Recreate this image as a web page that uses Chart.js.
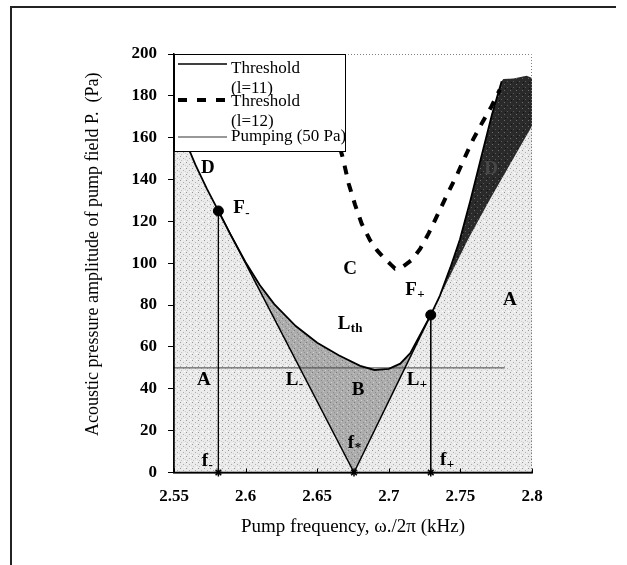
<!DOCTYPE html>
<html><head><meta charset="utf-8">
<script src="https://cdn.jsdelivr.net/npm/chart.js@4.4.1/dist/chart.umd.min.js"></script>
<style>
html,body{margin:0;padding:0;background:#fff;}
#wrap{position:relative;width:627px;height:565px;overflow:hidden;}
canvas{position:absolute;left:0;top:0;}
#frame{position:absolute;left:10px;top:6px;width:604px;height:600px;border-left:2px solid #222;border-top:2px solid #222;pointer-events:none;}
</style></head><body>
<div id="wrap"><canvas id="c" width="627" height="565"></canvas><div id="frame"></div></div>
<script>
// ---------- data ----------
const xTicks = [2.55, 2.6, 2.65, 2.7, 2.75, 2.8];
const xTickLabels = ['2.55', '2.6', '2.65', '2.7', '2.75', '2.8'];
const yTicks = [0, 20, 40, 60, 80, 100, 120, 140, 160, 180, 200];
const yTickLabels = ['0', '20', '40', '60', '80', '100', '120', '140', '160', '180', '200'];

// Threshold (l=11) curve  L_th
const thr11X = [2.557, 2.565, 2.573, 2.581, 2.590, 2.600, 2.610, 2.620, 2.635, 2.650, 2.665, 2.680, 2.690, 2.700, 2.708, 2.715, 2.722, 2.7293, 2.7357, 2.743, 2.7497, 2.7572, 2.765, 2.772, 2.7788];
const thr11Y = [160, 147, 135.5, 125, 113, 100.5, 89.5, 80.5, 70, 62, 56, 51, 49, 49.5, 52, 57, 66, 75.3, 84.5, 98, 111.5, 130.6, 152, 171, 187];

// Threshold (l=12) dashed curve
const thr12X = [2.666, 2.668, 2.672, 2.6764, 2.681, 2.6869, 2.692, 2.6973, 2.702, 2.7043, 2.710, 2.716, 2.722, 2.728, 2.735, 2.7416, 2.7478, 2.7532, 2.759, 2.7653, 2.7719, 2.7775];
const thr12Y = [155, 150, 138, 128, 119, 111, 106, 102, 99, 97.5, 98.5, 101.5, 107, 114.5, 124.5, 134, 142.5, 150.8, 159.3, 167.3, 175.2, 183];

// Pumping level (50 Pa)
const pumpX = [2.55, 2.781];
const pumpY = [50, 50];

// Lines L- and L+ from f*
const lMinusX = [2.581, 2.6757];
const lMinusY = [125, 0];
const lPlusX = [2.6757, 2.7293, 2.7555, 2.7707, 2.8];
const lPlusY = [0, 75.3, 111.6, 130.6, 165.6];

// Upper edge of dark region D (right)
const darkTopX = [2.780, 2.787, 2.7963, 2.8];
const darkTopY = [188, 188.3, 189.6, 188.5];

// Special points
const fMinusX = 2.581, fMinusY = 125;
const fPlusX = 2.7293, fPlusY = 75.3;
const fStarX = 2.6757;

const legendLabels = [['Threshold', '(l=11)'], ['Threshold', '(l=12)'], ['Pumping (50 Pa)']];
const xTitle = 'Pump frequency, \u03C9./2\u03C0 (kHz)';
const yTitle = '    Acoustic pressure amplitude of pump field P.  (Pa)';

// region / point labels (text, subscript, x, y)
const annotations = [
  ['D', '', 2.5737, 145.4, '#000'],
  ['F', '-', 2.5954, 126.2, '#000'],
  ['A', '', 2.5709, 44.3, '#000'],
  ['C', '', 2.6729, 97.0, '#000'],
  ['F', '+', 2.7155, 87.4, '#000'],
  ['A', '', 2.7846, 82.6, '#000'],
  ['L', 'th', 2.6687, 71.1, '#000'],
  ['L', '-', 2.6324, 44.3, '#000'],
  ['B', '', 2.6785, 39.5, '#000'],
  ['L', '+', 2.7169, 44.3, '#000'],
  ['f', '*', 2.6736, 14.1, '#000'],
  ['f', '-', 2.5716, 5.5, '#000'],
  ['f', '+', 2.7379, 6.0, '#000'],
  ['D', '', 2.7714, 144.9, '#474747']
];

// ---------- helpers ----------
const xMin = xTicks[0], xMax = xTicks[xTicks.length - 1];
const P = (xs, ys) => xs.map((v, i) => ({x: v, y: ys[i]}));
const thr11 = P(thr11X, thr11Y);
const lPlus = P(lPlusX, lPlusY);
const darkTop = P(darkTopX, darkTopY);
const fM = {x: fMinusX, y: fMinusY}, fP = {x: fPlusX, y: fPlusY}, fS = {x: fStarX, y: 0};

const thrLeft = thr11.filter(p => p.x < fMinusX);
const thrMid = thr11.filter(p => p.x > fMinusX && p.x < fPlusX);
const thrRight = thr11.filter(p => p.x > fPlusX);
const plusUpper = lPlus.filter(p => p.x > fPlusX);

const polyALeft = [{x: xMin, y: 0}, fS, fM, ...thrLeft.slice().reverse(), {x: xMin, y: thrLeft[0].y}];
const polyARight = [fS, ...lPlus.filter(p => p.x > fStarX), {x: xMax, y: 0}];
const polyB = [fM, ...thrMid, fP, fS];
const polyD = [fP, ...thrRight, ...darkTop, ...plusUpper.slice().reverse()];

function pat(base, dots) {
  const c = document.createElement('canvas'); c.width = 6; c.height = 6;
  const g = c.getContext('2d'); g.fillStyle = base; g.fillRect(0, 0, 6, 6);
  dots.forEach(d => { g.fillStyle = d[2]; g.fillRect(d[0], d[1], 1, 1); });
  return g.createPattern(c, 'repeat');
}
const patA = pat('#ebebeb', [[0,0,'#969696'],[3,2,'#adadad'],[1,4,'#c2c2c2'],[5,3,'#d0d0d0'],[4,5,'#ffffff']]);
const patB = pat('#adadad', [[0,0,'#7a7a7a'],[3,2,'#8a8a8a'],[1,4,'#d0d0d0'],[5,1,'#c8c8c8'],[4,4,'#8e8e8e']]);
const patD = pat('#2a2a2a', [[0,0,'#6a6a6a'],[3,3,'#5a5a5a'],[1,4,'#111111']]);

const serif = '"Liberation Serif", "Times New Roman", serif';

const polyDs = (data, bg) => ({data, showLine: true, fill: 'shape', backgroundColor: bg, borderWidth: 0, pointRadius: 0, order: 20});
const lineDs = (data, color, w, extra) => Object.assign({data, showLine: true, fill: false, borderColor: color, borderWidth: w, pointRadius: 0, tension: 0, order: 5}, extra || {});

const overlay = {
  id: 'overlay',
  afterDatasetsDraw(chart) {
    const {ctx, chartArea: a, scales: {x, y}} = chart;
    ctx.save();
    // plot border (top/right dotted gray)
    ctx.strokeStyle = '#808080'; ctx.lineWidth = 1; ctx.setLineDash([1, 2]);
    ctx.beginPath(); ctx.moveTo(a.left, a.top + 0.5); ctx.lineTo(a.right - 0.5, a.top + 0.5); ctx.lineTo(a.right - 0.5, a.bottom); ctx.stroke();
    ctx.setLineDash([]);
    // axes
    ctx.strokeStyle = '#000'; ctx.lineWidth = 1.5;
    ctx.beginPath(); ctx.moveTo(a.left, a.top); ctx.lineTo(a.left, a.bottom); ctx.lineTo(a.right, a.bottom); ctx.stroke();
    // inner x ticks
    ctx.lineWidth = 1;
    xTicks.forEach(v => { const px = Math.round(x.getPixelForValue(v)) + 0.5; ctx.beginPath(); ctx.moveTo(px, a.bottom); ctx.lineTo(px, a.bottom - 4); ctx.stroke(); });
    // labels
    annotations.forEach(([t, sub, xv, yv, col]) => {
      const px = x.getPixelForValue(xv), py = y.getPixelForValue(yv);
      ctx.fillStyle = col; ctx.textBaseline = 'middle';
      ctx.font = 'bold 19px ' + serif; ctx.textAlign = 'center';
      ctx.fillText(t, px, py);
      if (sub) {
        const w = ctx.measureText(t).width;
        ctx.font = 'bold 13px ' + serif; ctx.textAlign = 'left';
        ctx.fillText(sub, px + w / 2 + 0.5, py + 5);
      }
    });
    // legend box
    const L = a.left, T = a.top, bw = 171, bh = 97;
    ctx.fillStyle = '#fff'; ctx.fillRect(L, T, bw, bh);
    ctx.strokeStyle = '#000'; ctx.lineWidth = 1; ctx.strokeRect(L + 0.5, T + 0.5, bw, bh);
    const sx0 = L + 4, sx1 = L + 53, tx = L + 57;
    ctx.strokeStyle = '#000';
    ctx.lineWidth = 1.5; ctx.beginPath(); ctx.moveTo(sx0, T + 10); ctx.lineTo(sx1, T + 10); ctx.stroke();
    ctx.lineWidth = 4; ctx.setLineDash([9, 10]); ctx.beginPath(); ctx.moveTo(sx0, T + 46); ctx.lineTo(sx1, T + 46); ctx.stroke();
    ctx.setLineDash([]);
    ctx.strokeStyle = '#333'; ctx.lineWidth = 1.2; ctx.beginPath(); ctx.moveTo(sx0, T + 83); ctx.lineTo(sx1, T + 83); ctx.stroke();
    ctx.fillStyle = '#000'; ctx.font = '17px ' + serif; ctx.textAlign = 'left'; ctx.textBaseline = 'middle';
    ctx.fillText(legendLabels[0][0], tx, T + 15);
    ctx.fillText(legendLabels[0][1], tx, T + 35);
    ctx.fillText(legendLabels[1][0], tx, T + 48);
    ctx.fillText(legendLabels[1][1], tx, T + 68);
    ctx.fillText(legendLabels[2][0], tx, T + 83);
    ctx.restore();
  }
};

new Chart(document.getElementById('c'), {
  type: 'scatter',
  data: {
    datasets: [
      polyDs(polyALeft, patA),
      polyDs(polyARight, patA),
      Object.assign(polyDs(polyB, patB), {order: 19}),
      Object.assign(polyDs(polyD, patD), {order: 19}),
      lineDs(P(pumpX, pumpY), '#444', 1, {order: 6}),
      lineDs(P(thr12X, thr12Y), '#000', 4, {borderDash: [9, 9], order: 4}),
      lineDs([fM, {x: fMinusX, y: 0}], '#000', 1, {order: 5}),
      lineDs([fP, {x: fPlusX, y: 0}], '#000', 1, {order: 5}),
      lineDs(P(lMinusX, lMinusY), '#000', 1.5, {order: 3}),
      lineDs([fS, fP], '#000', 1.5, {order: 3}),
      lineDs(thr11, '#000', 1.8, {order: 2}),
      {data: [fM, fP], showLine: false, pointRadius: 5, pointBackgroundColor: '#000', pointBorderColor: '#000', order: 1},
      {data: [{x: fMinusX, y: 0}, fS, {x: fPlusX, y: 0}], showLine: false, pointStyle: 'star', pointRadius: 4, pointBorderColor: '#000', pointBorderWidth: 1.5, clip: false, order: 1}
    ]
  },
  options: {
    responsive: false, animation: false, events: [],
    layout: {padding: {left: 78, right: 95, top: 54, bottom: 24}},
    plugins: {legend: {display: false}, tooltip: {enabled: false}},
    scales: {
      x: {
        type: 'linear', position: 'bottom', min: xMin, max: xMax,
        afterBuildTicks: s => { s.ticks = xTicks.map(v => ({value: v})); },
        afterFit: s => { s.height = 68.5; },
        grid: {display: false},
        border: {display: true, color: '#000', width: 1.5},
        ticks: {callback: (v, i) => xTickLabels[i], font: {family: serif, size: 17, weight: 'bold'}, color: '#000', padding: 6, maxRotation: 0, autoSkip: false},
        title: {display: true, text: xTitle, font: {family: serif, size: 19}, color: '#000', padding: {top: 0, bottom: 3}}
      },
      y: {
        type: 'linear', min: yTicks[0], max: yTicks[yTicks.length - 1],
        afterBuildTicks: s => { s.ticks = yTicks.map(v => ({value: v})); },
        afterFit: s => { s.width = 96; },
        grid: {display: true, drawOnChartArea: false, drawTicks: true, tickLength: 6, color: '#000', lineWidth: 1},
        border: {display: true, color: '#000', width: 1.5},
        ticks: {callback: (v, i) => yTickLabels[i], font: {family: serif, size: 17, weight: 'bold'}, color: '#000', padding: 11, autoSkip: false},
        title: {display: true, text: yTitle, font: {family: serif, size: 18}, color: '#000', padding: {top: 4, bottom: 0}}
      }
    }
  },
  plugins: [overlay]
});
</script>
</body></html>
